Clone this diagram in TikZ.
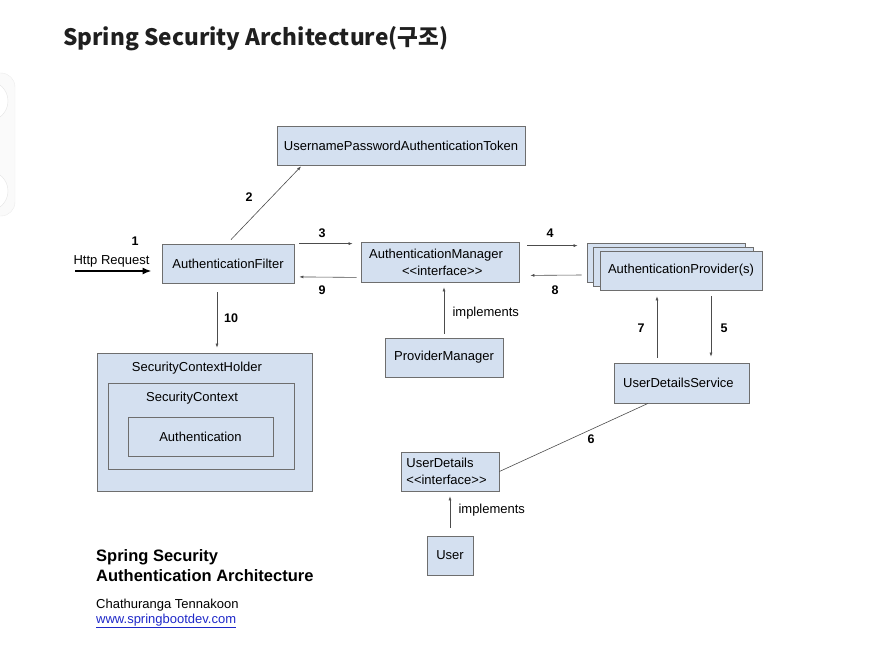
\documentclass[tikz,border=0pt]{standalone}
\usepackage{fontspec}
\setmainfont{Liberation Sans}[Ligatures=TeXOff]
\newfontfamily\titlefont{Noto Sans CJK KR}
\usetikzlibrary{arrows.meta, positioning}
\definecolor{boxblue}{RGB}{212,224,240}
\definecolor{boxline}{RGB}{110,110,110}
\definecolor{linkblue}{RGB}{30,40,200}

\begin{document}
\begin{tikzpicture}[x=1pt, y=-1pt,
    component/.style={rectangle, draw=boxline, fill=boxblue, line width=0.8pt, minimum height=39pt, inner sep=0pt, align=center, font=\fontsize{13}{17}\selectfont},
    arrow/.style={-{Latex[length=4pt, width=3pt]}, draw=black!70, line width=0.6pt},
    steplabel/.style={font=\fontsize{12.5}{14}\selectfont\bfseries},
    label/.style={font=\fontsize{13}{15}\selectfont}
]
    \useasboundingbox (0,0) rectangle (870,662);

    % side panel of the page
    \draw[draw=black!8, fill=black!2, rounded corners=14pt] (-40,73) rectangle (15,216);
    \draw[draw=black!10, fill=white] (-12,101) circle (20);
    \draw[draw=black!10, fill=white] (-12,191) circle (20);

    % Title
    \node[anchor=base west, inner sep=0pt, text=black!88, font=\titlefont\bfseries\fontsize{22.6}{26}\selectfont] (title) at (63,45) {Spring Security Architecture(구조)};

    % Filter and token
    \node[component, minimum width=132pt] (filter) at (228,263.5) {AuthenticationFilter};
    \node[component, minimum width=248pt] (token) at (401,145.5) {UsernamePasswordAuthenticationToken};

    % Manager
    \node[component, minimum width=158pt, minimum height=40pt, align=left] (manager) at (440,262) {AuthenticationManager\hspace*{8pt}\\\hspace*{33pt}<<interface>>};
    \node[component, minimum width=118pt] (pmanager) at (444,357.5) {ProviderManager};

    % Providers (stacked)
    \node[component, minimum width=158pt] (providerback) at (666,262.5) {};
    \node[component, minimum width=160pt] (providermid) at (673,266.5) {};
    \node[component, minimum width=162pt] (provider) at (681,270.5) {AuthenticationProvider(s)};

    % User details
    \node[component, minimum width=135pt, minimum height=40pt] (uds) at (682,383) {UserDetailsService\ \ };
    \node[component, minimum width=98pt, align=left] (userdetails) at (450,471.5) {UserDetails\hspace*{20pt}\\<<interface>>\hspace*{6pt}};
    \node[component, minimum width=46pt] (user) at (450,555.5) {User};

    % Security context
    \node[component, minimum width=215pt, minimum height=138pt] (holder) at (204.5,422) {};
    \node[component, minimum width=186pt, minimum height=86pt] (context) at (201,426) {};
    \node[component, minimum width=145pt] (auth) at (200.5,436.5) {Authentication};
    \node[label] (holdertext) at (197,368) {SecurityContextHolder};
    \node[label] (contexttext) at (192,398) {SecurityContext};

    % Request
    \coordinate (request) at (75,271);
    \draw[-{Latex[length=9pt, width=7pt]}, line width=2pt] (request) -- ([shift={(-10,7.5)}]filter.west);
    \node[label] (requesttext) at (111.5,261) {Http Request};
    \node[steplabel] (s1) at (135,241) {1};

    % Numbered steps
    \draw[arrow] ([shift={(3,-4)}]filter.north) -- ([shift={(-100,1)}]token.south);
    \node[steplabel] (s2) at (249,197) {2};
    \draw[arrow] ([shift={(5,0)}]filter.north east) -- ([shift={(-8,2)}]manager.north west);
    \node[steplabel] (s3) at (322,233) {3};
    \draw[arrow] ([shift={(8,4)}]manager.north east) -- ([shift={(-9,3)}]providerback.north west);
    \node[steplabel] (s4) at (550,233) {4};
    \draw[arrow] ([shift={(30,6)}]provider.south) -- ([shift={(29,-6)}]uds.north);
    \node[steplabel] (s5) at (724,328) {5};
    \draw[draw=black!70, line width=0.6pt] ([shift={(-34,0)}]uds.south) -- (userdetails.east);
    \node[steplabel] (s6) at (591,439) {6};
    \draw[arrow] ([shift={(-25,-5)}]uds.north) -- ([shift={(-24,6)}]provider.south);
    \node[steplabel] (s7) at (641,328) {7};
    \draw[arrow] ([shift={(-5,12.5)}]providerback.west) -- ([shift={(11,-7)}]manager.south east);
    \node[steplabel] (s8) at (555,290) {8};
    \draw[arrow] ([shift={(-4,-5)}]manager.south west) -- ([shift={(5,-6.5)}]filter.south east);
    \node[steplabel] (s9) at (322,290) {9};
    \draw[arrow] ([shift={(-11,9)}]filter.south) -- ([shift={(12.5,-5)}]holder.north);
    \node[steplabel] (s10) at (231,318) {10};

    % Implements
    \draw[arrow] ([shift={(0,-4)}]pmanager.north) -- ([shift={(4,5)}]manager.south);
    \node[label, anchor=west] (impl1) at (449,313) {implements};
    \draw[arrow] ([shift={(0,-8)}]user.north) -- ([shift={(0,5)}]userdetails.south);
    \node[label, anchor=west] (impl2) at (455,510) {implements};

    % Caption
    \node[anchor=base west, inner sep=0pt, align=left, font=\bfseries\fontsize{16.5}{20}\selectfont] (caption) at (96,581.5) {Spring Security\\Authentication Architecture};
    \node[anchor=base west, inner sep=0pt, font=\fontsize{13}{15}\selectfont] (author) at (96,608.5) {Chathuranga Tennakoon};
    \node[anchor=base west, inner sep=0pt, text=linkblue, font=\fontsize{13}{15}\selectfont] (site) at (96,623.5) {\underline{www.springbootdev.com}};
\end{tikzpicture}
\end{document}
